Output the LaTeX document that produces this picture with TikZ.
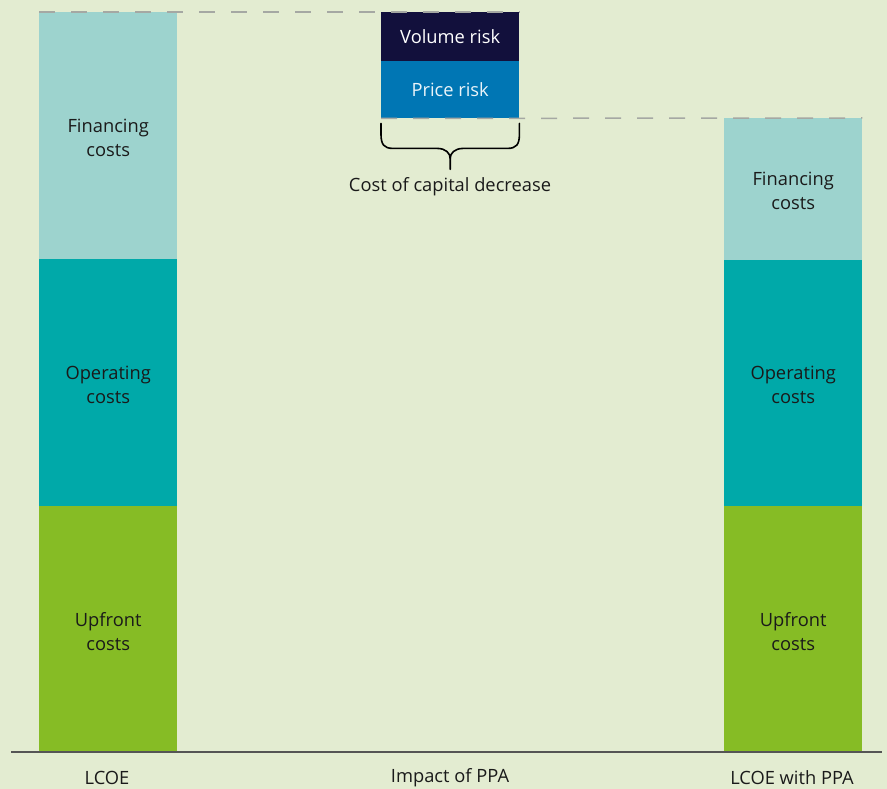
\documentclass[tikz,border=0pt]{standalone}
\usepackage{fontspec}
\setmainfont{Open Sans}
\usetikzlibrary{calc}
\definecolor{bgc}{HTML}{E3ECD1}
\definecolor{finc}{HTML}{9DD3CE}
\definecolor{opc}{HTML}{00A9A9}
\definecolor{upc}{HTML}{86BC25}
\definecolor{volc}{HTML}{12103C}
\definecolor{pricec}{HTML}{0076B4}
\definecolor{dashc}{HTML}{A5A8A3}
\definecolor{axisc}{HTML}{555555}
\definecolor{txtc}{HTML}{1A1A1A}
\begin{document}
\begin{tikzpicture}[x=1pt,y=-1pt,
  seg/.style={rectangle, inner sep=0pt, minimum width=138pt, anchor=north west, align=center, text=txtc, font=\fontsize{18.3}{24}\selectfont},
  guide/.style={dashc, line width=1.5pt, dash pattern=on 16pt off 16pt},
  bracepath/.style={black, line width=1.6pt, line cap=round, line join=round},
  lbl/.style={text=txtc, font=\fontsize{18.3}{24}\selectfont},
  seglbl/.style={lbl, align=center, yshift=-2pt}]
\fill[bgc] (0,0) rectangle (887,789);
\useasboundingbox (0,0) rectangle (887,789);
% left bar
\node[seg, fill=finc, minimum height=247pt, label={[seglbl]center:Financing\\costs}] (fin1) at (39,12) {};
\node[seg, fill=opc, minimum height=247pt, label={[seglbl]center:Operating\\costs}] (op1) at (39,259) {};
\node[seg, fill=upc, minimum height=246pt, label={[seglbl]center:Upfront\\costs}] (up1) at (39,506) {};
% middle
\node[seg, fill=volc, minimum height=49pt, text=white] (vol) at (381,12) {Volume risk};
\node[seg, fill=pricec, minimum height=57pt, text=white!92!pricec] (price) at (381,61) {Price risk};
% right bar
\node[seg, fill=finc, minimum height=142pt, label={[seglbl]center:Financing\\costs}] (fin2) at (724,118) {};
\node[seg, fill=opc, minimum height=246pt, label={[seglbl]center:Operating\\costs}] (op2) at (724,260) {};
\node[seg, fill=upc, minimum height=246pt, label={[seglbl]center:Upfront\\costs}] (up2) at (724,506) {};
% guides
\draw[guide] (fin1.north west) -- (vol.north east);
\draw[guide] (price.south west) -- (fin2.north east);
% brace
\coordinate (bl) at ($(price.south west)+(0,5)$);
\coordinate (br) at ($(price.south east)+(0,5)$);
\coordinate (bm) at ($(price.south)+(0,40)$);
\coordinate (bt) at ($(price.south)+(0,51)$);
\draw[bracepath]
  (bl) -- ++(0,11) .. controls +(0,10) and +(-9,0) .. ++(12,14) -- ++(44,0)
  .. controls +(9,0) and +(0,-5) .. (bm) -- (bt);
\draw[bracepath]
  (br) -- ++(0,11) .. controls +(0,10) and +(9,0) .. ++(-12,14) -- ++(-44,0)
  .. controls +(-9,0) and +(0,-5) .. (bm);
\node[lbl] (ccd) at (450,187) {Cost of capital decrease};
% axis
\coordinate (axl) at (11,752);
\coordinate (axr) at (882,752);
\draw[axisc, line width=1.4pt] (axl) -- (axr);
\node[lbl] (l1) at (107,778) {LCOE};
\node[lbl] (l2) at (450,778) {Impact of PPA};
\node[lbl] (l3) at (792,778) {LCOE with PPA};
\end{tikzpicture}
\end{document}
